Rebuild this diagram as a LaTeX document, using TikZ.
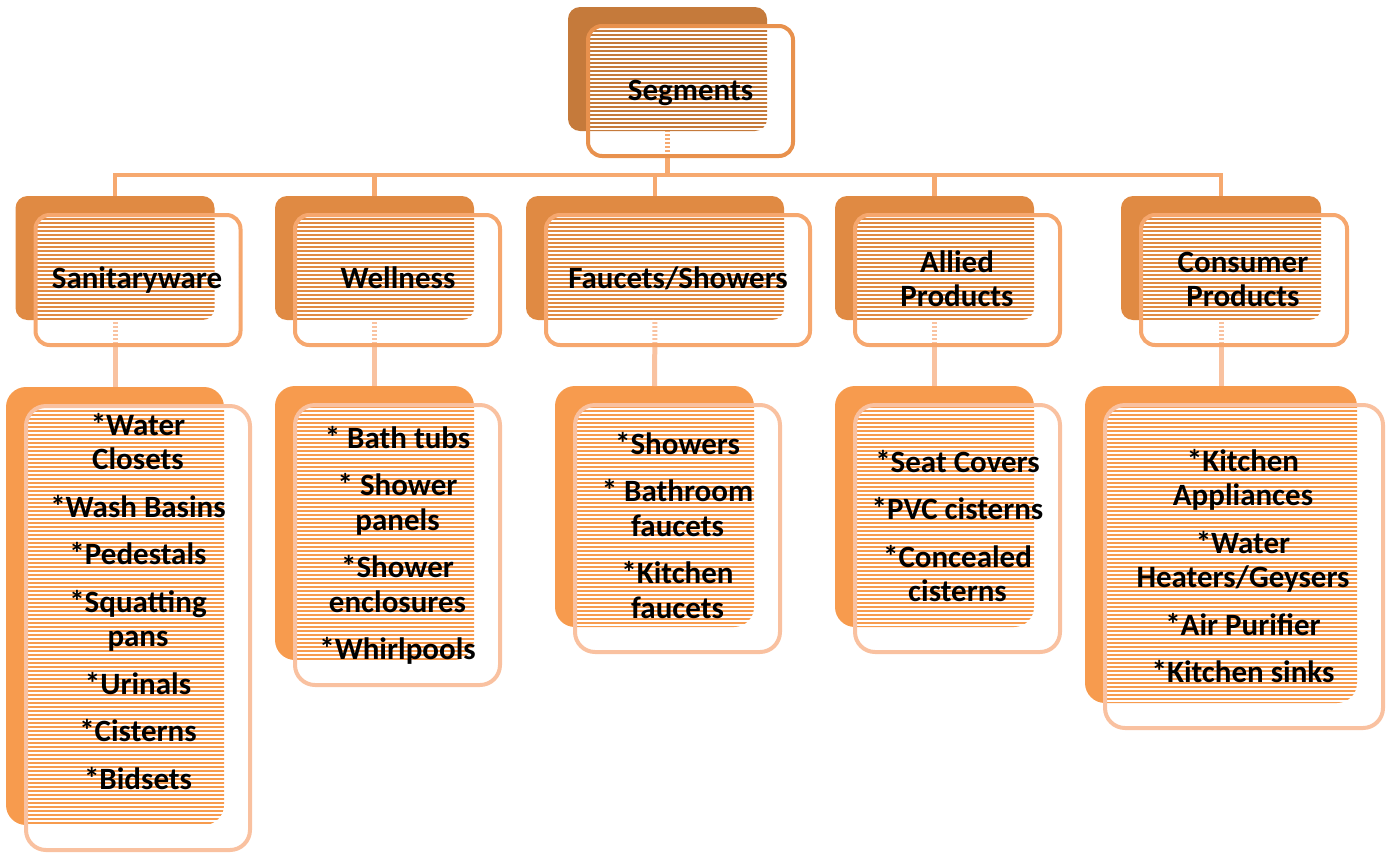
\documentclass[tikz,border=0pt]{standalone}
\usepackage{fontspec}
\setmainfont{Carlito}
\definecolor{topback}{HTML}{C57A3B}
\definecolor{topfront}{HTML}{E8914D}
\definecolor{ltwoback}{HTML}{E08A43}
\definecolor{ltwofront}{HTML}{F6A76E}
\definecolor{lthreeback}{HTML}{F79B4E}
\definecolor{lthreefront}{HTML}{F9C1A0}
\definecolor{busline}{HTML}{F6A96F}
\definecolor{subline}{HTML}{F9C2A0}
\pgfdeclarelayer{bg}
\pgfdeclarelayer{stripes}
\pgfsetlayers{bg,stripes,main}
\newcommand{\mystrut}{\rule{0pt}{25pt}}
\tikzset{
  backbox/.style={rectangle, inner sep=0pt, outer sep=0pt, draw=none},
  frontbox/.style={rectangle, inner sep=0pt, outer sep=0pt, line width=4pt, fill=none},
  lbl/.style={align=center, inner sep=0pt, outer sep=0pt, anchor=north, text=black,
    font=\fontsize{31pt}{34.5pt}\selectfont\bfseries},
  busconn/.style={draw=busline, line width=4.5pt},
  subconn/.style={draw=subline, line width=5pt},
}
\begin{document}
\begin{tikzpicture}[x=1pt,y=-1pt]
\useasboundingbox (0,0) rectangle (1391,852);
% ---------- back boxes
\begin{pgfonlayer}{bg}
\node[backbox, fill=topback, rounded corners=12pt, minimum width=199pt, minimum height=124pt] (tb) at (667.5,69) {};
\foreach \n/\x/\w in {b1/115/199, b2/374.5/199, b3/655/258, b4/934.5/199, b5/1221/200}
  \node[backbox, fill=ltwoback, rounded corners=12pt, minimum width=\w pt, minimum height=124pt] (\n) at (\x,258) {};
\node[backbox, fill=lthreeback, rounded corners=20pt, minimum width=218pt, minimum height=438pt] (c1) at (115,606) {};
\node[backbox, fill=lthreeback, rounded corners=20pt, minimum width=199pt, minimum height=274pt] (c2) at (374.5,523) {};
\node[backbox, fill=lthreeback, rounded corners=20pt, minimum width=199pt, minimum height=241pt] (c3) at (654.5,506.5) {};
\node[backbox, fill=lthreeback, rounded corners=20pt, minimum width=199pt, minimum height=241pt] (c4) at (934.5,506.5) {};
\node[backbox, fill=lthreeback, rounded corners=20pt, minimum width=272pt, minimum height=317pt] (c5) at (1221,544.5) {};
% connectors
\coordinate (bus) at (0,175);
\draw[busconn] (tb.south) -- (tb.south |- bus);
\draw[busconn] (b1.north) -- (b1.north |- bus) -- (b5.north |- bus) -- (b5.north);
\draw[busconn] (b2.north) -- (b2.north |- bus);
\draw[busconn] (b3.north) -- (b3.north |- bus);
\draw[busconn] (b4.north) -- (b4.north |- bus);
\draw[subconn] (b1.south) -- (c1.north);
\draw[subconn] (b2.south) -- (c2.north);
\draw[subconn] (b3.south) -- (c3.north);
\draw[subconn] (b4.south) -- (c4.north);
\draw[subconn] (b5.south) -- (c5.north);
\end{pgfonlayer}
% ---------- front boxes
\node[frontbox, draw=topfront, rounded corners=14pt, minimum width=205pt, minimum height=130pt] (tf) at (690.5,91) {};
\foreach \n/\x/\w in {f1/138/205, f2/397.5/205, f3/678/264, f4/957.5/205, f5/1244/206}
  \node[frontbox, draw=ltwofront, rounded corners=14pt, minimum width=\w pt, minimum height=130pt] (\n) at (\x,280) {};
\node[frontbox, draw=lthreefront, rounded corners=20pt, minimum width=224pt, minimum height=444pt] (g1) at (138,628) {};
\node[frontbox, draw=lthreefront, rounded corners=20pt, minimum width=205pt, minimum height=280pt] (g2) at (397.5,545) {};
\node[frontbox, draw=lthreefront, rounded corners=20pt, minimum width=205pt, minimum height=247pt] (g3) at (677.5,528.5) {};
\node[frontbox, draw=lthreefront, rounded corners=20pt, minimum width=205pt, minimum height=247pt] (g4) at (957.5,528.5) {};
\node[frontbox, draw=lthreefront, rounded corners=20pt, minimum width=278pt, minimum height=323pt] (g5) at (1244,566.5) {};
% ---------- stripes seen through the front boxes
\begin{pgfonlayer}{stripes}
\begin{scope}
\clip[rounded corners=14pt] (tf.south west) rectangle (tf.north east)
  (f1.south west) rectangle (f1.north east) (f2.south west) rectangle (f2.north east)
  (f3.south west) rectangle (f3.north east) (f4.south west) rectangle (f4.north east)
  (f5.south west) rectangle (f5.north east)
  [rounded corners=20pt]
  (g1.south west) rectangle (g1.north east) (g2.south west) rectangle (g2.north east)
  (g3.south west) rectangle (g3.north east) (g4.south west) rectangle (g4.north east)
  (g5.south west) rectangle (g5.north east);
\foreach \y in {0,4,...,852}
  \fill[white] (0,\y) rectangle (1391,\y+1.6);
\end{scope}
\end{pgfonlayer}
% ---------- texts
\node[lbl] (tt) at (690.5,75) {\mystrut Segments};
\node[lbl] (t1) at (137,263) {\mystrut Sanitaryware};
\node[lbl] (t2) at (398,263) {\mystrut Wellness};
\node[lbl] (t3) at (678,263) {\mystrut Faucets/Showers};
\node[lbl] (t4) at (957,247) {\mystrut Allied\\Products};
\node[lbl] (t5) at (1243,247) {\mystrut Consumer\\Products};
\node[lbl] (u1) at (138,410) {\mystrut *Water\\Closets\\[13pt]*Wash Basins\\[13pt]*Pedestals\\[13pt]*Squatting\\pans\\[13pt]*Urinals\\[13pt]*Cisterns\\[13pt]*Bidsets};
\node[lbl] (u2) at (397.5,423) {\mystrut * Bath tubs\\[13pt]* Shower\\panels\\[13pt]*Shower\\enclosures\\[13pt]*Whirlpools};
\node[lbl] (u3) at (677.5,429) {\mystrut *Showers\\[13pt]* Bathroom\\faucets\\[13pt]*Kitchen\\faucets};
\node[lbl] (u4) at (957.5,447) {\mystrut *Seat Covers\\[13pt]*PVC cisterns\\[13pt]*Concealed\\cisterns};
\node[lbl] (u5) at (1243,446) {\mystrut *Kitchen\\Appliances\\[13pt]*Water\\Heaters/Geysers\\[13pt]*Air Purifier\\[13pt]*Kitchen sinks};
\end{tikzpicture}
\end{document}
